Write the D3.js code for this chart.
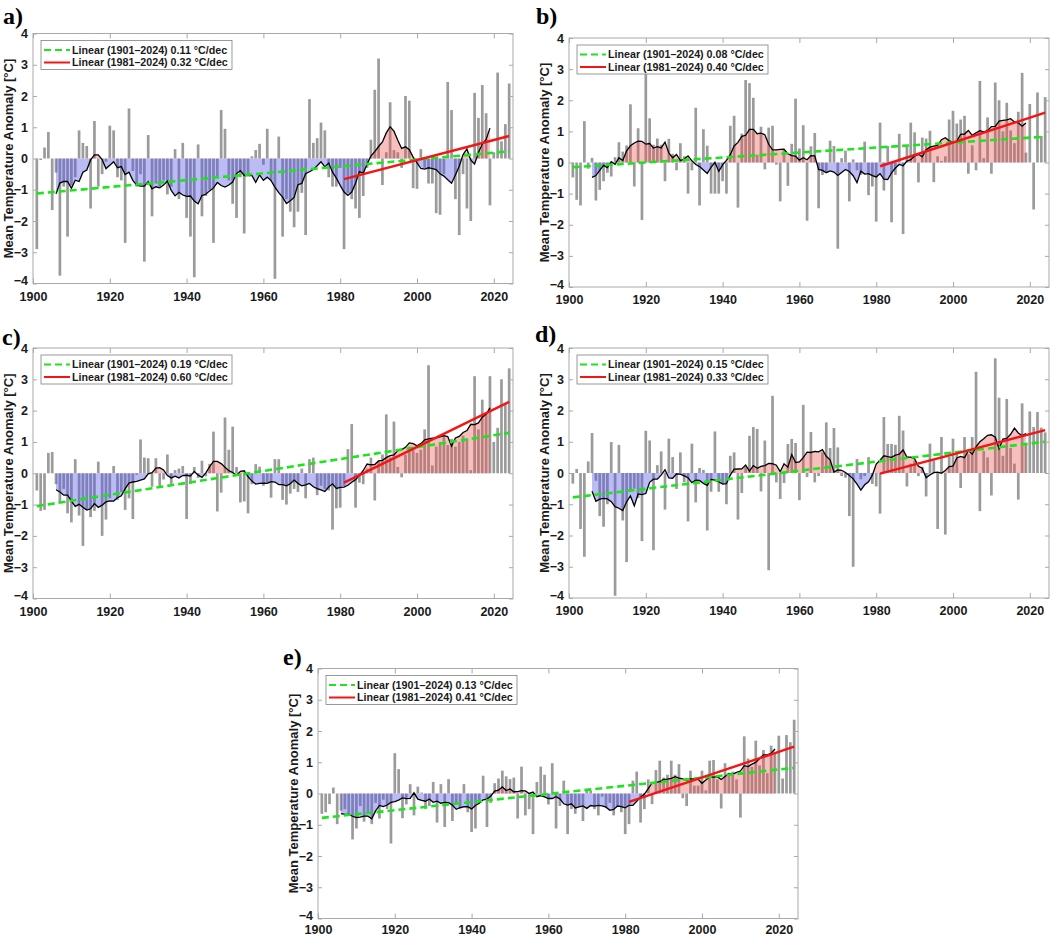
<!DOCTYPE html>
<html>
<head>
<meta charset="utf-8">
<script src="https://cdn.jsdelivr.net/npm/d3@7"></script>
<style>
body { margin: 0; background: #fff; }
svg { display: block; font-family: Arial, "Liberation Sans", sans-serif; }
</style>
</head>
<body>
<svg id="chart" width="1052" height="938"></svg>
<script>
var years = d3.range(1901, 2025)

var anomA = [
  -2.9, -0.05, 0.35, 0.85, -1.65, -0.45, -3.75, -0.9, -2.5, -0.85,
  -0.6, 0.9, 0.5, 0.4, -1.6, 1.2, -0.9, -0.5, -0.1, 1.05,
  0.9, -0.6, -0.7, -2.7, 1.6, -0.4, -0.9, -0.5, -3.3, 0.75,
  -1.85, -0.8, -0.9, -0.7, -1.15, -0.9, 0.3, -1.3, 0.5, -1.9,
  -2.5, -3.8, 0.45, -1.85, -1.2, -1.0, -2.7, -0.6, 1.55, 0.95,
  -0.7, -1.45, -1.9, -0.6, -2.4, -0.5, 0.07, 0.27, 0.47, -0.2,
  0.95, -0.7, -3.85, 0.7, -2.5, -1.3, -1.7, -2.2, -1.7, -1.1,
  -2.45, 1.9, 0.5, 0.65, 1.15, 0.9, -0.6, -0.9, -0.9, -0.3,
  -2.9, -1.1, -1.3, -1.6, -1.9, -1.2, -0.3, 0.6, 2.2, 3.2,
  -0.85, 0.2, 1.8, 0.27, 0.2, -0.3, 2.0, 1.85, -0.95, -0.97,
  0.3, -0.3, -0.8, -0.8, -1.75, -1.8, -0.5, 2.45, 1.55, -1.3,
  -2.45, -0.5, -1.6, -2.0, 2.1, 1.3, 2.35, 1.45, -1.5, 0.2,
  2.75, 0.55, 1.1, 2.4
]
var anomB = [
  -0.48, -1.2, -1.38, 1.33, -0.2, 0.15, -1.22, -0.88, -0.6, -0.33,
  -0.45, 0.17, 0.65, 0.35, 0.55, 1.87, -0.77, 1.1, -1.85, 2.85,
  1.42, 0.57, 0.77, 0.57, -0.6, 0.76, 0.28, -0.25, 0.62, 0.2,
  -1.0, -0.25, 1.76, -1.38, 1.07, 0.54, -1.0, -1.0, -1.0, -0.6,
  -1.0, 1.18, 1.5, -1.45, 0.93, 2.65, 2.55, 2.08, 0.25, 1.15,
  -0.22, 1.12, 1.18, -0.07, -1.25, 0.4, -0.75, 0.6, 2.05, 0.45,
  1.2, -1.87, 0.52, 0.95, -1.47, -0.4, -0.3, 0.7, 0.53, -2.77,
  0.14, 0.38, -1.25, 0.1, -0.25, -0.4, 0.67, -1.05, -0.77, -1.9,
  1.28, -0.9, 0.53, -1.92, -0.4, 0.92, -2.3, 0.5, 1.28, 0.97,
  -0.64, 0.8, 0.77, 1.02, -0.63, 0.2, 0.05, 0.2, 1.38, 1.66,
  1.25, 1.38, 1.5, -0.36, 0.55, -0.25, 2.62, 0.14, 1.45, -0.36,
  2.57, 2.0, 1.0, 1.92, 1.03, 0.62, 1.63, 2.88, 0.32, 1.88,
  -1.51, 2.25, 0.85, 2.1
]
var anomC = [
  -0.55, -1.2, -1.17, 0.65, 0.68, -0.35, -0.95, -0.5, -1.28, -1.57,
  0.45, -1.35, -2.32, -1.17, -1.4, -1.2, 0.37, -2.0, -1.48, -0.8,
  0.23, -0.85, -0.6, -1.17, -0.8, -1.46, -0.05, 1.08, 0.5, 0.48,
  -0.43, 0.48, -0.43, -0.2, 0.6, -0.34, 0.1, 0.15, 0.23, -1.46,
  -0.34, 0.2, -0.15, 0.4, -0.1, 0.3, 1.33, -1.22, -0.62, 1.78,
  0.75, 1.49, 0.2, -0.93, -0.9, -1.28, -0.35, 0.29, 0.21, -0.4,
  -0.3, -0.78, 0.45, 0.45, -0.85, -1.0, -0.65, -0.5, -0.6, 0.15,
  -0.8, 0.45, 0.5, -0.7, -0.4, -0.5, -0.55, -1.8, -1.12, -1.1,
  -0.4, 0.77, 1.57, -1.1, -0.3, -0.35, 0.15, 0.5, -0.87, 0.4,
  0.6, 1.88, 0.5, 1.65, 0.2, -0.13, 0.6, 0.85, 0.75, 0.65,
  0.75, 1.4, 3.45, 0.25, 0.85, 1.0, 1.2, 0.9, 1.1, 0.85,
  1.0, 1.2, 1.1, 0.1, 3.1, 1.4, 2.35, 1.9, 3.1, 1.0,
  1.45, 3.0, 2.2, 3.35
]
var anomD = [
  -0.34, 0.13, -1.79, -2.68, 0.37, 1.28, -0.25, -1.38, -1.72, -1.0,
  0.99, -3.93, 0.9, -1.52, -2.85, -0.6, -0.5, -0.8, -2.18, 1.35,
  1.04, -2.47, 0.25, 0.69, -1.17, 1.1, 0.51, -0.51, 0.66, -0.3,
  -1.55, 0.94, -0.94, 0.16, 0.1, -1.84, -0.6, 1.33, -0.6, -0.34,
  -1.0, 0.55, 0.66, -1.49, -0.64, 0.2, 1.19, 1.47, 1.41, -0.59,
  1.04, -3.11, 2.47, -0.3, -0.83, -0.32, 0.93, 1.09, 0.96, -0.87,
  2.18, -0.13, 1.31, -0.3, -0.1, 0.66, 1.62, 0.8, 1.44, 0.82,
  -0.1, -0.15, -1.38, -3.0, 0.45, -0.2, -0.1, 0.51, -0.35, -0.43,
  -1.3, 1.79, 0.93, 0.93, 0.9, 1.83, 1.36, -0.43, 0.3, 0.4,
  -0.1, 0.2, -0.75, 0.94, 0.4, -1.79, 1.15, -1.97, 0.53, 1.1,
  0.6, -0.48, 1.15, 0.6, 1.15, 3.24, -1.22, 0.7, 0.5, -0.72,
  3.67, 2.41, 0.55, 2.37, 0.8, 0.3, -0.85, 2.23, 0.9, 1.97,
  1.47, 1.95, 1.45, 1.3
]
var anomE = [
  -0.65, -0.6, -0.34, 0.19, -0.98, -0.55, -0.5, -0.7, -1.47, -1.12,
  -0.4, -0.9, -0.6, -0.98, -0.3, -0.8, -0.2, -0.5, -1.6, 1.29,
  0.78, -0.79, -0.35, 0.3, -0.7, 0.22, 0.03, -0.5, -0.4, 0.37,
  -0.93, 0.3, -1.07, 0.46, -0.88, -0.3, -0.5, 0.3, -0.6, -1.23,
  -1.12, -0.3, 0.57, -1.07, -0.3, 0.33, 0.48, 0.73, 0.55, 0.46,
  0.51, -0.8, 0.86, -0.7, -0.5, -1.3, 0.37, 0.86, 0.6, -0.35,
  0.97, -1.12, -0.4, 0.41, -1.3, -0.5, -0.65, -0.4, -0.88, 0.15,
  0.1, -0.5, -0.7, -0.1, -0.45, -0.3, -0.7, -0.4, -0.6, -1.3,
  -0.98, 0.41, 0.7, -0.93, -0.5, 0.45, -0.34, 0.75, 1.05, 0.51,
  0.6, 1.05, 0.6, 0.94, -0.15, -0.4, 0.73, 0.25, 0.25, 0.73,
  0.1, 1.05, 1.07, 0.45, -0.48, 0.97, 0.65, 0.7, 0.45, -0.77,
  1.83, 1.12, 0.85, 1.69, 0.9, 1.39, 0.65, 1.53, 1.3, 1.85,
  0.48, 1.87, 1.64, 2.36
]

// trend lines, value at first and last year of each period
var fullPeriod = [1901, 2024]
var fullStart = [-1.12, -0.15, -1.05, -0.78, -0.78]
var fullEnd = [0.23, 0.83, 1.29, 1.0, 0.82]
var recentPeriod = [1981, 2024]
var recentStart = [-0.66, -0.12, -0.3, -0.02, -0.27]
var recentEnd = [0.72, 1.6, 2.28, 1.37, 1.5]
var fullSlope = ['0.11', '0.08', '0.19', '0.15', '0.13']
var recentSlope = ['0.32', '0.40', '0.60', '0.33', '0.41']

var panelNames = ['a)', 'b)', 'c)', 'd)', 'e)']
var xTicks = [1900, 1920, 1940, 1960, 1980, 2000, 2020]
var yTicks = [-4, -3, -2, -1, 0, 1, 2, 3, 4]
var yTitle = 'Mean Temperature Anomaly [°C]'

var series = [anomA, anomB, anomC, anomD, anomE]

var layout = [
  {left: 33, top: 33.5, w: 480, h: 250, nx: 3, ny: 24, pad: 8.5},
  {left: 569, top: 38, w: 480, h: 249, nx: 536, ny: 24, pad: 8.5},
  {left: 33, top: 348, w: 480, h: 250.5, nx: 2, ny: 345, pad: 8.5},
  {left: 569, top: 348, w: 480, h: 250, nx: 535, ny: 342, pad: 8.5},
  {left: 318, top: 668.5, w: 480, h: 250, nx: 283, ny: 665, pad: 7}
]

var boxColor = '#a9a9a9'
var barColor = '#9b9b9b'

var svg = d3.select('#chart')

// 11-year centred running mean of a series
function runningMean(vals, win) {
  var half = Math.floor(win / 2), out = []
  for (var i = half; i < vals.length - half; i++) {
    out.push({year: years[i], v: d3.mean(vals.slice(i - half, i + half + 1))})
  }
  return out
}

layout.forEach(function(p, i) {
  var vals = series[i]
  var rows = years.map(function(yr, k) { return {year: yr, v: vals[k]} })
  var smooth = runningMean(vals, 11)

  var x = d3.scaleLinear().domain([1900, 2025]).range([0, p.w])
  var y = d3.scaleLinear().domain([-4, 4]).range([p.h, 0])
  var bw = 2.7

  var g = svg.append('g')
    .attr('transform', 'translate(' + p.left + ',' + p.top + ')')

  // clip regions above and below zero
  var defs = g.append('defs')
  defs.append('clipPath').attr('id', 'pos' + i)
    .append('rect').attr('x', 0).attr('y', 0).attr('width', p.w).attr('height', y(0))
  defs.append('clipPath').attr('id', 'neg' + i)
    .append('rect').attr('x', 0).attr('y', y(0)).attr('width', p.w).attr('height', p.h - y(0))

  g.append('g').selectAll('rect')
    .data(rows)
    .enter().append('rect')
    .attr('x', function(d) { return x(d.year) - bw / 2 })
    .attr('y', function(d) { return y(Math.max(d.v, 0)) })
    .attr('width', bw)
    .attr('height', function(d) { return Math.abs(y(d.v) - y(0)) })
    .attr('fill', barColor)

  var area = d3.area()
    .x(function(d) { return x(d.year) })
    .y0(y(0))
    .y1(function(d) { return y(d.v) })

  g.append('path').datum(smooth)
    .attr('d', area)
    .attr('clip-path', 'url(#pos' + i + ')')
    .attr('fill', 'rgb(236,78,78)')
    .attr('fill-opacity', 0.36)
  g.append('path').datum(smooth)
    .attr('d', area)
    .attr('clip-path', 'url(#neg' + i + ')')
    .attr('fill', 'rgb(86,86,232)')
    .attr('fill-opacity', 0.4)

  var line = d3.line()
    .x(function(d) { return x(d.year) })
    .y(function(d) { return y(d.v) })

  g.append('path').datum(smooth)
    .attr('d', line)
    .attr('fill', 'none')
    .attr('stroke', '#000')
    .attr('stroke-width', 1.3)

  var fullLine = [{year: fullPeriod[0], v: fullStart[i]}, {year: fullPeriod[1], v: fullEnd[i]}]
  var recentLine = [{year: recentPeriod[0], v: recentStart[i]}, {year: recentPeriod[1], v: recentEnd[i]}]

  g.append('path').datum(fullLine)
    .attr('d', line)
    .attr('stroke', '#1de51d')
    .attr('stroke-width', 2.6)
    .attr('stroke-dasharray', '7,4')
  g.append('path').datum(recentLine)
    .attr('d', line)
    .attr('stroke', '#f51414')
    .attr('stroke-width', 2.4)

  // axes, MATLAB-like box with inward ticks
  var axB = g.append('g').attr('transform', 'translate(0,' + p.h + ')')
    .call(d3.axisBottom(x).tickValues(xTicks).tickFormat(d3.format('d'))
      .tickSizeInner(-5).tickSizeOuter(0).tickPadding(p.pad))
  var axT = g.append('g')
    .call(d3.axisTop(x).tickValues(xTicks).tickFormat('')
      .tickSizeInner(-5).tickSizeOuter(0))
  var axL = g.append('g')
    .call(d3.axisLeft(y).tickValues(yTicks).tickFormat(d3.format('d'))
      .tickSizeInner(-4).tickSizeOuter(0).tickPadding(5))
  var axR = g.append('g').attr('transform', 'translate(' + p.w + ',0)')
    .call(d3.axisRight(y).tickValues(yTicks).tickFormat('')
      .tickSizeInner(-4).tickSizeOuter(0))

  ;[axB, axT, axL, axR].forEach(function(a) {
    a.select('.domain').remove()
    a.selectAll('line').attr('stroke', boxColor)
    a.selectAll('text')
      .attr('fill', '#1a1a1a')
      .style('font-size', '12.5px')
      .style('font-weight', 'bold')
  })
  // lowest y label sits just above the first year label
  axL.selectAll('.tick text').filter(function(d) { return d === -4 }).attr('dy', '0.1em')

  g.append('rect')
    .attr('width', p.w)
    .attr('height', p.h)
    .attr('fill', 'none')
    .attr('stroke', boxColor)
    .attr('stroke-width', 1)

  g.append('text')
    .attr('transform', 'translate(-20,' + (p.h / 2) + ') rotate(-90)')
    .attr('text-anchor', 'middle')
    .style('font-size', '13px')
    .style('font-weight', 'bold')
    .attr('fill', '#1a1a1a')
    .text(yTitle)

  // legend
  var lg = g.append('g').attr('transform', 'translate(8,7)')
  lg.append('rect')
    .attr('width', 191)
    .attr('height', 29)
    .attr('fill', '#fff')
    .attr('stroke', '#808080')
    .attr('stroke-width', 0.8)
  var items = [
    {label: 'Linear (1901\u20132024) ' + fullSlope[i] + ' \u00b0C/dec', color: '#1de51d', dash: '7,4', y: 9.5},
    {label: 'Linear (1981\u20132024) ' + recentSlope[i] + ' \u00b0C/dec', color: '#f51414', dash: null, y: 22}
  ]
  items.forEach(function(it) {
    lg.append('line')
      .attr('x1', 3).attr('x2', 29)
      .attr('y1', it.y).attr('y2', it.y)
      .attr('stroke', it.color)
      .attr('stroke-width', 2)
      .attr('stroke-dasharray', it.dash)
    lg.append('text')
      .attr('x', 31)
      .attr('y', it.y + 3.8)
      .style('font-size', '10.7px')
      .style('font-weight', 'bold')
      .attr('fill', '#1a1a1a')
      .text(it.label)
  })

  svg.append('text')
    .attr('x', p.nx)
    .attr('y', p.ny)
    .style('font-family', '"Liberation Serif", "Times New Roman", serif')
    .style('font-size', '24px')
    .style('font-weight', 'bold')
    .text(panelNames[i])
})
</script>
</body>
</html>
